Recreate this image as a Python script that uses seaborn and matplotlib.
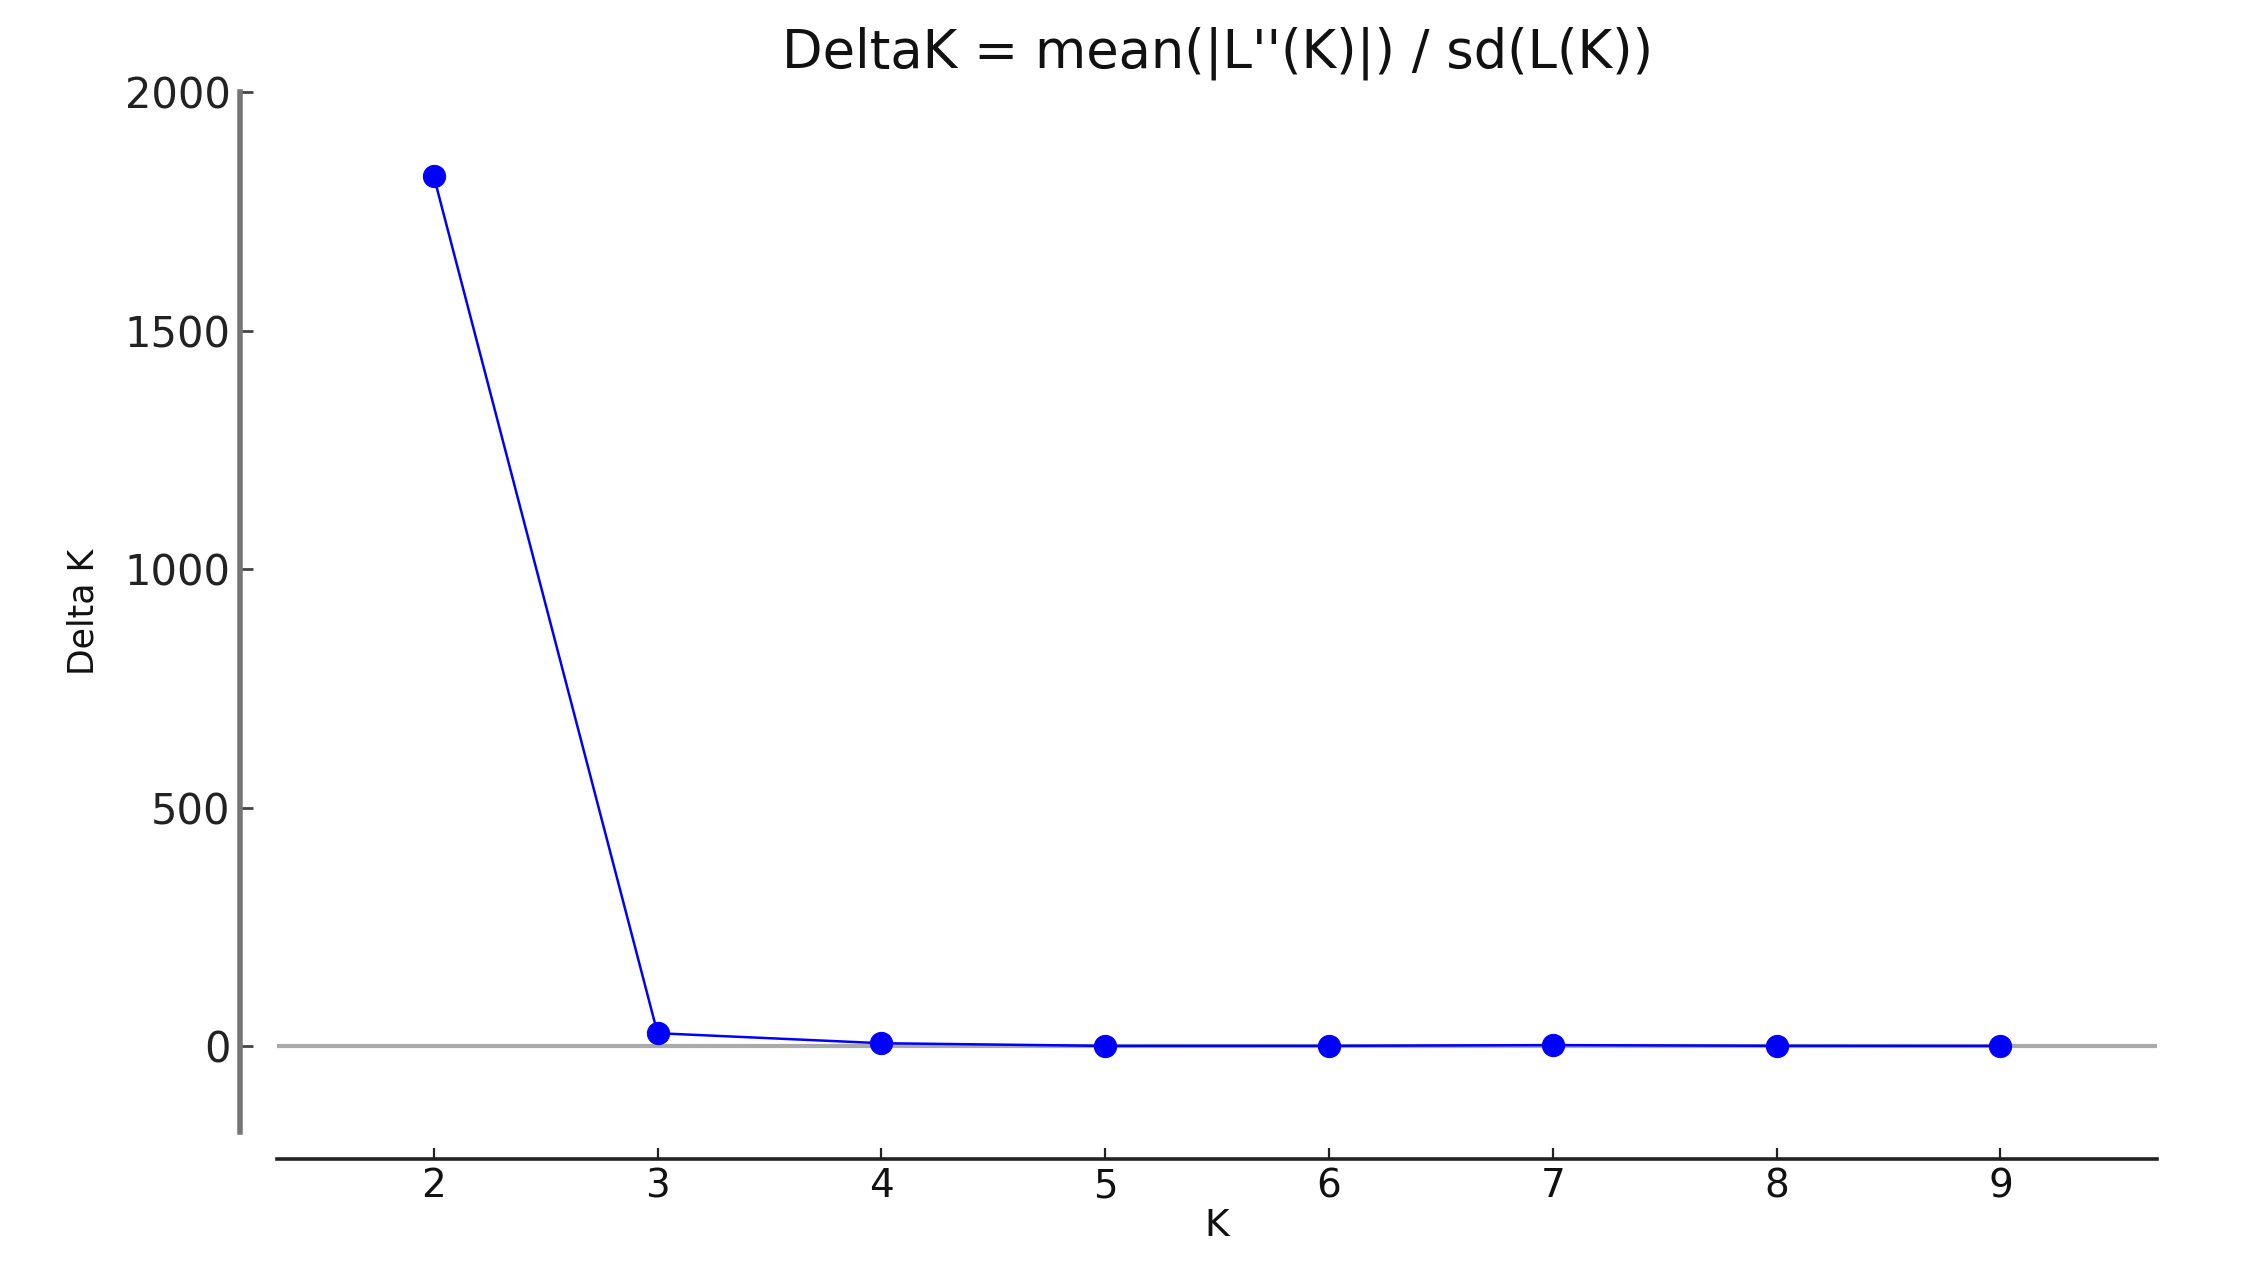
import matplotlib
matplotlib.use("Agg")
import matplotlib.pyplot as plt
import seaborn as sns
import pandas as pd

# Data
K_values = [2, 3, 4, 5, 6, 7, 8, 9]
delta_k = [1824, 27, 6, 0.4, 0.5, 2.0, 0.6, 0.3]
y_ticks = [0, 500, 1000, 1500, 2000]
x_ticks = [2, 3, 4, 5, 6, 7, 8, 9]
title_text = "DeltaK = mean(|L''(K)|) / sd(L(K))"
x_label = "K"
y_label = "Delta K"

df = pd.DataFrame({"K": K_values, "DeltaK": delta_k})

sns.set_style("white")
plt.rcParams['font.family'] = ['DejaVu Sans']

fig = plt.figure(figsize=(22.47, 12.68), dpi=100)
ax = fig.add_axes([0.1233, 0.1073, 0.960 - 0.1233, 0.9274 - 0.1073])

ax.axhline(0, color="#aaaaaa", linewidth=3, zorder=1)
sns.lineplot(data=df, x="K", y="DeltaK", ax=ax, color="#0000ff",
             linewidth=1.8, marker="o", markersize=16,
             markeredgecolor="#0000ff", zorder=3)

ax.set_xlim(1.3, 9.7)
ax.set_ylim(-180, 2000)
ax.set_xticks(x_ticks)
ax.set_yticks(y_ticks)
ax.set_xticklabels([str(v) for v in x_ticks])
ax.set_yticklabels([str(v) for v in y_ticks])

for s in ["top", "right"]:
    ax.spines[s].set_visible(False)
ax.spines["left"].set_position(("outward", 26.6))
ax.spines["left"].set_color("#777777")
ax.spines["left"].set_linewidth(4.0)
ax.spines["bottom"].set_position(("outward", 19.4))
ax.spines["bottom"].set_color("#222222")
ax.spines["bottom"].set_linewidth(2.6)

ax.tick_params(axis="y", direction="in", length=9, width=2, color="#444444",
               labelsize=30, pad=7, labelcolor="#222222", left=True)
ax.tick_params(axis="x", direction="in", length=8, width=1.6, color="#222222",
               labelsize=28, pad=6, labelcolor="#111111", bottom=True)

ax.set_title(title_text, fontsize=38, pad=18, color="#111111")
ax.set_xlabel(x_label, fontsize=27, labelpad=2, color="#111111")
ax.set_ylabel(y_label, fontsize=25, color="#111111")
ax.yaxis.set_label_coords(-0.094, 0.5)

ax.grid(False)
fig.savefig("out.png", dpi=100, facecolor="white")
